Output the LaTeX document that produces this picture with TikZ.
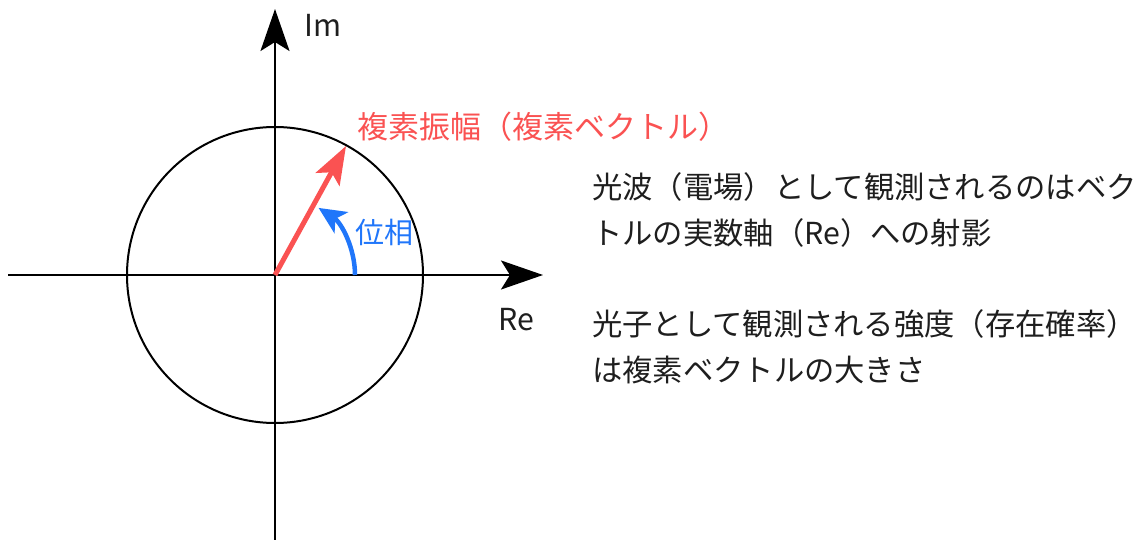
\documentclass[tikz,border=0pt]{standalone}
\usepackage{fontspec}
\setmainfont{Noto Sans CJK JP}
\usetikzlibrary{arrows.meta}
\definecolor{vred}{RGB}{250,82,82}
\definecolor{vblue}{RGB}{32,118,250}
\definecolor{txt}{RGB}{30,30,30}
\begin{document}
\begin{tikzpicture}[x=1pt,y=-1pt,
  axis/.style={line width=2pt,black,-{Stealth[length=42pt,width=29pt,inset=9pt]}},
  lbl/.style={inner sep=0pt,font=\fontsize{30.3}{46}\selectfont,text=txt,align=left},
  vec/.style={line width=5pt,vred,-{Stealth[length=38pt,width=27pt,inset=8pt]}},
  phase/.style={line width=4.5pt,vblue,-{Stealth[length=27pt,width=25pt,inset=7pt]}}]
\useasboundingbox (0,0) rectangle (1144,540);
\coordinate (O) at (275,275);
\coordinate (xl) at (8,275);
\coordinate (xr) at (543,275);
\coordinate (yb) at (275,540);
\coordinate (yt) at (275,9);
\coordinate (tip) at (346,146);
\draw[line width=2pt] (O) circle[radius=148];
\draw[axis] (xl) -- (xr);
\draw[axis] (yb) -- (yt);
\draw[vec] (O) -- (tip);
\draw[phase] (355,275) arc[start angle=0,end angle=-57,radius=80];
\node[lbl,anchor=west] (im) at (304,25) {Im};
\node[lbl] (re) at (516,320) {Re};
\node[lbl,anchor=west,text=vred,font=\fontsize{31}{46}\selectfont] (amp) at (357,127) {複素振幅（複素ベクトル）};
\node[lbl,anchor=west,text=vblue,font=\fontsize{29}{40}\selectfont] (ph) at (355,232) {位相};
\node[lbl,anchor=west] (t1) at (592,210) {光波（電場）として観測されるのはベク\\トルの実数軸（Re）への射影};
\node[lbl,anchor=west] (t2) at (592,347) {光子として観測される強度（存在確率）\\は複素ベクトルの大きさ};
\end{tikzpicture}
\end{document}
